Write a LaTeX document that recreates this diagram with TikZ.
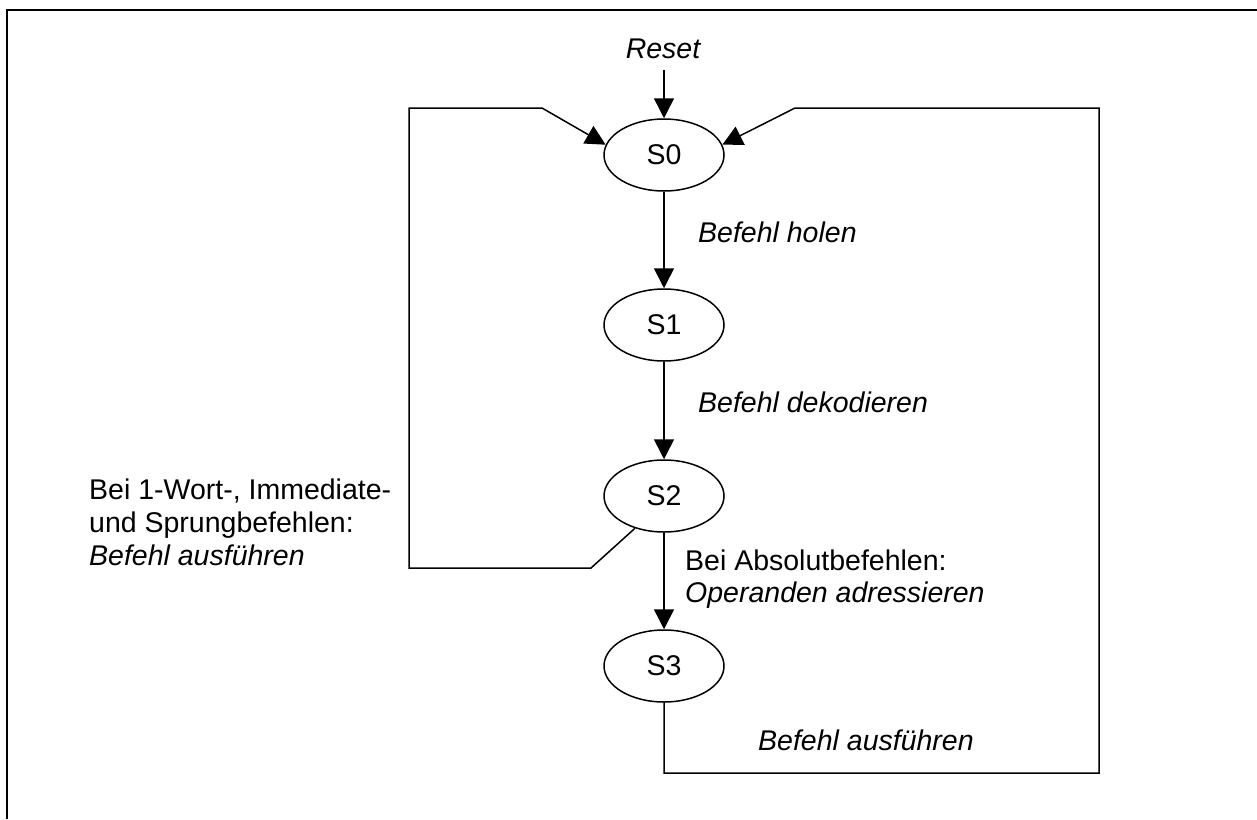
\documentclass[tikz,border=0pt]{standalone}
\usepackage{fontspec}
\setmainfont{Liberation Sans}
\usetikzlibrary{shapes.geometric,arrows.meta}
\tikzset{
  state/.style={draw,ellipse,line width=1.5pt,minimum width=120pt,minimum height=72pt,inner sep=0pt,font=\fontsize{28.5}{33}\selectfont},
  lbl/.style={anchor=base west,inner sep=0pt,font=\fontsize{28.5}{33}\selectfont},
  conn/.style={line width=1.5pt,-{Triangle[length=20pt,width=20pt]}},
  plain/.style={line width=1.5pt}
}
\begin{document}
\begin{tikzpicture}[x=1pt,y=-1pt]
\useasboundingbox (0,0) rectangle (1257,819);
\draw[line width=2.5pt] (7,819) -- (7,10) -- (1257,10);

\node[state] (S0) at (664,155) {S0};
\node[state] (S1) at (664,325) {S1};
\node[state] (S2) at (664,496) {S2};
\node[state] (S3) at (664,666) {S3};

\node[anchor=base,inner sep=0pt,font=\fontsize{28.5}{33}\selectfont\itshape] (reset) at (663,58) {Reset};
\coordinate (rtop) at (664,70);

\draw[conn] (rtop) -- (S0);
\draw[conn] (S0) -- (S1);
\draw[conn] (S1) -- (S2);
\draw[conn] (S2) -- (S3);

% left loop
\coordinate (l1) at (591,568);
\coordinate (l2) at (409,568);
\coordinate (l3) at (409,108);
\coordinate (l4) at (542,108);
\draw[conn] (S2.228) -- (l1) -- (l2) -- (l3) -- (l4) -- (S0.170);

% right loop
\coordinate (r1) at (664,773);
\coordinate (r2) at (1099,773);
\coordinate (r3) at (1099,108);
\coordinate (r4) at (795,108);
\draw[conn] (S3.south) -- (r1) -- (r2) -- (r3) -- (r4) -- (S0.10);

\node[lbl,font=\fontsize{28.5}{33}\selectfont\itshape] (t1) at (698,242) {Befehl holen};
\node[lbl,font=\fontsize{28.5}{33}\selectfont\itshape] (t2) at (698,412) {Befehl dekodieren};

\node[lbl] (t3a) at (89,499) {Bei 1-Wort-, Immediate-};
\node[lbl] (t3b) at (89,532) {und Sprungbefehlen:};
\node[lbl,font=\fontsize{28.5}{33}\selectfont\itshape] (t3c) at (89,565) {Befehl ausführen};

\node[lbl] (t4a) at (685,570) {Bei Absolutbefehlen:};
\node[lbl,font=\fontsize{28.5}{33}\selectfont\itshape] (t4b) at (685,602) {Operanden adressieren};

\node[lbl,font=\fontsize{28.5}{33}\selectfont\itshape] (t5) at (758,750) {Befehl ausführen};
\end{tikzpicture}
\end{document}
